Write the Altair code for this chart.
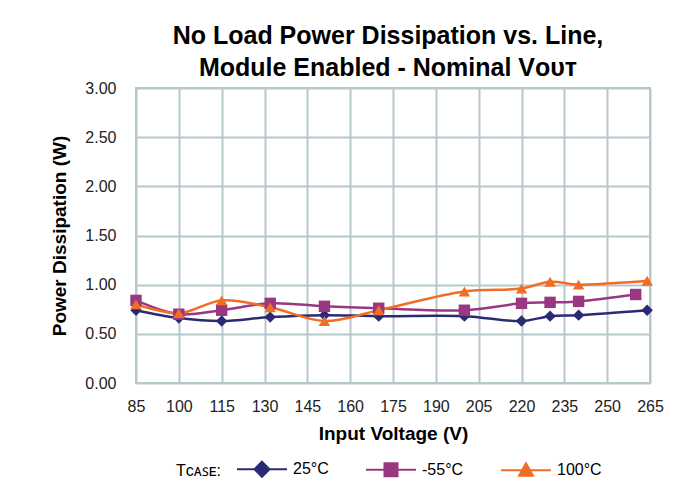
import altair as alt
import pandas as pd

series_names = ["25°C", "-55°C", "100°C"]

v_25 = [85, 100, 115, 132, 151, 170, 200, 220, 230, 240, 264]
p_25 = [0.74, 0.66, 0.63, 0.67, 0.69, 0.68, 0.68, 0.63, 0.68, 0.69, 0.74]

v_m55 = [85, 100, 115, 132, 151, 170, 200, 220, 230, 240, 260]
p_m55 = [0.84, 0.70, 0.74, 0.81, 0.78, 0.76, 0.74, 0.81, 0.82, 0.83, 0.90]

v_100 = [85, 100, 115, 132, 151, 170, 200, 220, 230, 240, 264]
p_100 = [0.80, 0.71, 0.84, 0.77, 0.63, 0.74, 0.93, 0.96, 1.03, 1.00, 1.04]

x_ticks = list(range(85, 266, 15))
y_ticks = [0, 0.5, 1.0, 1.5, 2.0, 2.5, 3.0]

colors = ["#2b2b73", "#9a3780", "#f26d24"]
shapes = ["diamond", "square", "triangle-up"]
legend_paths = [
    "M-5,0H5M0,-1.5L1.5,0L0,1.5L-1.5,0Z",
    "M-5,0H5M-1.3,-1.3H1.3V1.3H-1.3Z",
    "M-5,0H5M0,-1.4L1.4,1.1H-1.4Z",
]

rows = []
for name, xs, ys in [(series_names[0], v_25, p_25), (series_names[1], v_m55, p_m55), (series_names[2], v_100, p_100)]:
    for xv, yv in zip(xs, ys):
        rows.append({"series": name, "voltage": xv, "power": yv})
df = pd.DataFrame(rows)

font = "Liberation Sans"

x_enc = alt.X("voltage:Q", scale=alt.Scale(domain=[85, 265], nice=False),
              axis=alt.Axis(values=x_ticks, title="Input Voltage (V)", grid=True, labelFlush=False))
y_enc = alt.Y("power:Q", scale=alt.Scale(domain=[0, 3], nice=False),
              axis=alt.Axis(values=y_ticks, format=".2f", title="Power Dissipation (W)", grid=True,
                            labelFlush=False))

base = alt.Chart(df)

layers = []
for name, col in zip(series_names, colors):
    layers.append(
        base.transform_filter(alt.datum.series == name)
        .mark_line(interpolate="catmull-rom", strokeWidth=2.5, color=col)
        .encode(x=x_enc, y=y_enc)
    )
for name, col, shp in zip(series_names, colors, shapes):
    layers.append(
        base.transform_filter(alt.datum.series == name)
        .mark_point(filled=True, size=130, opacity=1, color=col, shape=shp)
        .encode(x=x_enc, y=y_enc)
    )

leg = alt.Legend(title="Tᴄᴀꜱᴇ:", orient="none", legendX=40, legendY=373,
                 direction="horizontal",
                 titleOrient="left", symbolSize=100, symbolStrokeWidth=2,
                 labelOffset=23, columnPadding=26, symbolOffset=28,
                 labelFontSize=16, titleFontSize=16, titleFontWeight="normal",
                 labelFont=font, titleFont=font, labelColor="#000000",
                 titleColor="#000000")

legend_layer = base.transform_filter("datum.voltage > 10000").mark_point(
    filled=True, size=100, opacity=1, strokeWidth=2
).encode(
    x=x_enc, y=y_enc,
    fill=alt.Fill("series:N", scale=alt.Scale(domain=series_names, range=colors), legend=leg),
    stroke=alt.Stroke("series:N", scale=alt.Scale(domain=series_names, range=colors), legend=leg),
    shape=alt.Shape("series:N", scale=alt.Scale(domain=series_names, range=legend_paths), legend=leg),
)
layers.append(legend_layer)

chart = alt.layer(*layers).properties(
    width=514, height=295,
    title=alt.TitleParams(["No Load Power Dissipation vs. Line,", "Module Enabled - Nominal Vᴏᴜᴛ"],
                          fontSize=25, font=font, fontWeight="bold", color="#000000",
                          lineHeight=32, offset=-1, anchor="middle", dx=-5),
    autosize="none",
    padding={"left": 128, "top": 80, "right": 35, "bottom": 103},
).configure_view(stroke="#b5c8cc", strokeWidth=2).configure_axis(
    gridColor="#b5c8cc", gridWidth=2, domain=False, ticks=False,
    labelFont=font, titleFont=font, labelFontSize=16, titleFontSize=19,
    labelColor="#222222", titleColor="#000000", titleFontWeight="bold",
).configure_axisX(labelPadding=15, titlePadding=10).configure_axisY(labelPadding=20, titlePadding=15)

chart.save("out.html", embed_options={"renderer": "svg", "actions": False})
